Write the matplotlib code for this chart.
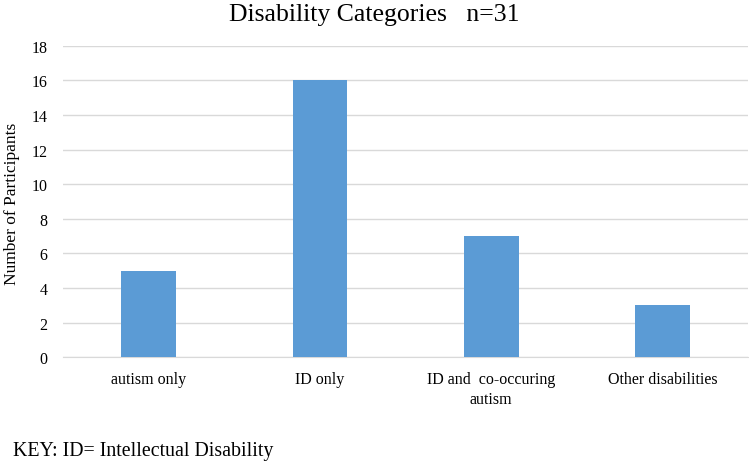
import numpy as np
import matplotlib.pyplot as plt

plt.rcParams['font.family'] = ['Liberation Serif', 'DejaVu Serif']

categories = ["autism only", "ID only", "ID and  co-occuring\nautism", "Other disabilities"]
participants = [5, 16, 7, 3]
yticks = np.arange(0, 20, 2)

fig = plt.figure(figsize=(7.49, 4.64), dpi=100)
ax = fig.add_axes([0.084, 0.228, 0.915, 0.671])

x = np.arange(len(categories))
ax.bar(x, participants, width=0.32, color='#5B9BD5', zorder=3)

ax.set_xlim(-0.5, len(categories) - 0.5)
ax.set_ylim(0, 18)
ax.set_yticks(yticks)
ax.set_xticks(x)
ax.set_xticklabels(categories, fontsize=11.5, linespacing=1.35)
ax.tick_params(axis='y', labelsize=11.5, length=0, pad=11)
ax.tick_params(axis='x', length=0, pad=10)
ax.grid(axis='y', color='#D9D9D9', linewidth=1, zorder=0)
for s in ['top', 'right', 'left']:
    ax.spines[s].set_visible(False)
ax.spines['bottom'].set_color('#D9D9D9')

fig.text(12 / 749, 0.56, "Number of Participants", rotation=90, ha='center', va='center', fontsize=12.5)
fig.text(0.5, 0.968, "Disability Categories   n=31", ha='center', va='center', fontsize=18.5)
fig.text(0.018, 0.028, "KEY: ID= Intellectual Disability", ha='left', va='center', fontsize=14.3)

fig.savefig("out.png", dpi=100)
